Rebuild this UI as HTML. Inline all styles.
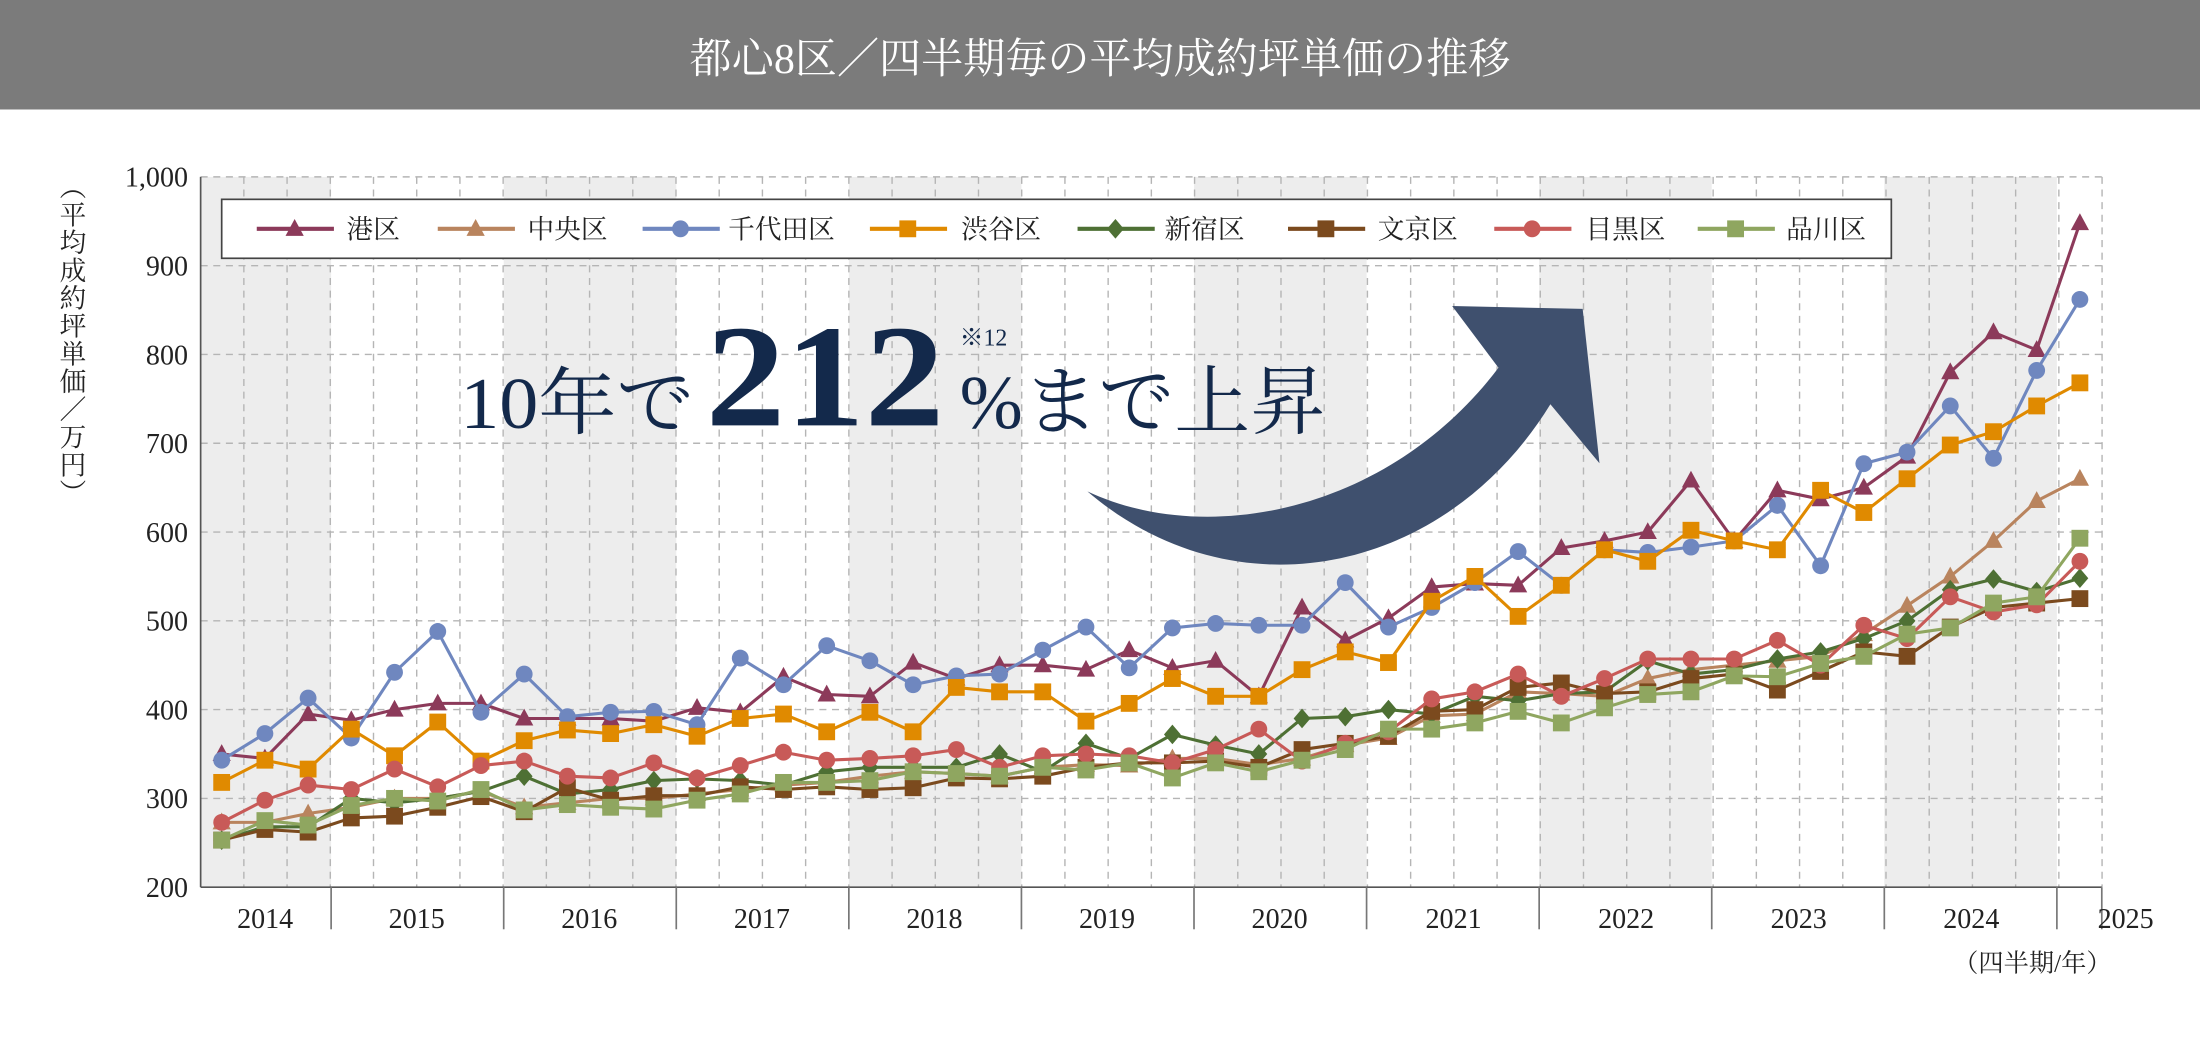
<!DOCTYPE html>
<html><head><meta charset="utf-8">
<style>
html,body{margin:0;padding:0;background:#fff;}
svg{display:block;}
text{font-family:"Liberation Serif","Noto Serif CJK SC","Noto Sans CJK JP",serif;}
</style></head>
<body>
<svg id="c" width="2200" height="1043" viewBox="0 0 1568 743" preserveAspectRatio="none" xmlns="http://www.w3.org/2000/svg">
<rect x="0" y="0" width="1568" height="78" fill="#7b7b7b"/>
<text x="784" y="52" font-size="30" fill="#fff" text-anchor="middle">都心8区／四半期毎の平均成約坪単価の推移</text>
<g id="bands"></g>
<g id="grid"></g>
<g id="axes"></g>
<path d="M775,350 C860,390 990,365 1068,262 L1035,218 L1128,220 L1140,330 L1105,288 C1030,410 880,440 775,350 Z" fill="#3f506e"/>
<g id="series"></g>
<rect x="158" y="142" width="1190" height="42" fill="#fff" stroke="#444" stroke-width="1.2"/>
<g id="legend"></g>
<text x="328" y="305" font-size="52" fill="#13294b" textLength="167" lengthAdjust="spacingAndGlyphs">10年で</text>
<text x="503" y="303" font-size="104" font-weight="bold" fill="#13294b" textLength="170" lengthAdjust="spacingAndGlyphs">212</text>
<text x="684" y="246" font-size="17" fill="#13294b">※12</text>
<text x="684" y="305" font-size="54" fill="#13294b" textLength="261" lengthAdjust="spacingAndGlyphs">%まで上昇</text>
<g id="ytitle"></g>
<text x="1505" y="692" font-size="18" fill="#222" text-anchor="end">（四半期/年）</text>
</svg>
<script>
const NS="http://www.w3.org/2000/svg";
function el(p,t,a,txt){const e=document.createElementNS(NS,t);for(const k in a)e.setAttribute(k,a[k]);if(txt!==undefined)e.textContent=txt;document.getElementById(p).appendChild(e);return e;}
const X0=143,X1=1498,Q=30.8,YT=126,YB=632;
const yv=v=>YB-(v-200)*(YB-YT)/800;
const xi=i=>158+i*Q;
[[143,236],[359,482],[605,728],[851,974],[1097,1220],[1343,1466]].forEach(b=>el('bands','rect',{x:b[0],y:YT,width:b[1]-b[0],height:YB-YT,fill:'#ededed'}));
for(let v=300;v<=1000;v+=100)el('grid','line',{x1:X0,x2:X1,y1:yv(v),y2:yv(v),stroke:'#b5b5b5','stroke-width':1,'stroke-dasharray':'5,4'});
for(let x=X0+Q;x<=X1+1;x+=Q)el('grid','line',{x1:x,x2:x,y1:YT,y2:YB,stroke:'#b5b5b5','stroke-width':1,'stroke-dasharray':'5,4'});
el('axes','line',{x1:X0,x2:X0,y1:YT,y2:YB,stroke:'#555','stroke-width':1.2});
el('axes','line',{x1:X0,x2:X1,y1:YB,y2:YB,stroke:'#555','stroke-width':1.2});
[236,359,482,605,728,851,974,1097,1220,1343,1466,1498].forEach(x=>el('axes','line',{x1:x,x2:x,y1:YB,y2:662,stroke:'#777','stroke-width':1.2}));
const yrs=[[189,'2014'],[297,'2015'],[420,'2016'],[543,'2017'],[666,'2018'],[789,'2019'],[912,'2020'],[1036,'2021'],[1159,'2022'],[1282,'2023'],[1405,'2024'],[1515,'2025']];
yrs.forEach(y=>el('axes','text',{x:y[0],y:661,'font-size':20,'text-anchor':'middle',fill:'#222'},y[1]));
for(let v=200;v<=1000;v+=100)el('axes','text',{x:134,y:yv(v)+7,'font-size':20,'text-anchor':'end',fill:'#222'},v==1000?'1,000':String(v));
const tc=['︵','平','均','成','約','坪','単','価','／','万','円','︶'];
tc.forEach((c,i)=>el('ytitle','text',{x:52,y:140+i*19.8,'font-size':19,'text-anchor':'middle',fill:'#222'},c));
const S=[
['港区','#8c3a5a','tri',[350,345,395,388,400,407,407,390,390,390,387,402,397,437,417,415,453,435,450,450,445,467,447,455,415,515,478,503,538,542,540,582,590,600,658,590,647,637,650,685,780,825,805,948]],
['中央区','#b9845e','tri',[273,273,283,290,300,300,308,290,295,300,300,305,310,315,318,325,330,328,325,335,338,337,345,345,338,345,360,368,393,395,420,418,415,435,445,450,455,460,485,517,550,590,635,660]],
['千代田区','#6f87bf','circ',[343,373,413,368,442,488,397,440,392,397,398,383,458,428,472,455,428,438,440,467,493,447,492,497,495,495,543,493,515,543,578,540,580,577,583,590,630,562,677,690,742,683,782,862]],
['渋谷区','#e08a00','sq',[318,343,333,378,348,386,342,365,377,373,383,370,390,395,375,397,375,425,420,420,387,407,435,415,415,445,465,453,522,550,505,540,580,567,602,590,580,647,622,660,698,713,742,768]],
['新宿区','#4e7034','dia',[253,268,268,300,295,300,308,325,305,310,320,322,320,315,330,335,335,335,350,330,362,345,372,360,350,390,392,400,395,415,410,418,420,455,440,445,457,465,480,500,535,547,533,548]],
['文京区','#7b4a1e','sq',[253,265,262,278,280,290,302,285,312,298,303,303,313,310,313,310,312,323,322,325,335,340,340,342,335,355,362,370,398,400,425,430,418,420,435,440,422,443,465,460,493,515,520,525]],
['目黒区','#c85a58','circ',[273,298,315,310,333,313,337,342,325,323,340,323,337,352,343,345,348,355,335,348,350,348,340,355,378,342,362,375,412,420,440,415,435,457,457,457,478,450,495,480,527,510,518,567]],
['品川区','#8fa660','sq',[253,275,270,292,300,297,310,287,293,290,288,298,305,318,318,320,330,328,325,335,332,340,323,340,330,343,355,378,378,385,398,385,402,417,420,438,437,452,460,485,492,520,527,593]]
];
function marker(g,type,x,y,c){
 if(type=='tri')el(g,'polygon',{points:`${x},${y-7} ${x-6.5},${y+5} ${x+6.5},${y+5}`,fill:c});
 else if(type=='circ')el(g,'circle',{cx:x,cy:y,r:6,fill:c});
 else if(type=='sq')el(g,'rect',{x:x-6,y:y-6,width:12,height:12,fill:c});
 else el(g,'polygon',{points:`${x},${y-7} ${x+6},${y} ${x},${y+7} ${x-6},${y}`,fill:c});
}
S.forEach(s=>{
 el('series','polyline',{points:s[3].map((v,i)=>xi(i)+','+yv(v)).join(' '),fill:'none',stroke:s[1],'stroke-width':2.2,'stroke-linejoin':'round'});
 s[3].forEach((v,i)=>marker('series',s[2],xi(i),yv(v),s[1]));
});
const L=[[183,247],[312,376],[458,519],[620,685],[768,830],[918,982],[1065,1130],[1210,1273]];
S.forEach((s,i)=>{
 const [x0,tx]=L[i];
 el('legend','line',{x1:x0,x2:x0+55,y1:163,y2:163,stroke:s[1],'stroke-width':3});
 marker('legend',s[2],x0+27,163,s[1]);
 el('legend','text',{x:tx,y:170,'font-size':19,fill:'#222'},s[0]);
});
</script>
</body></html>
